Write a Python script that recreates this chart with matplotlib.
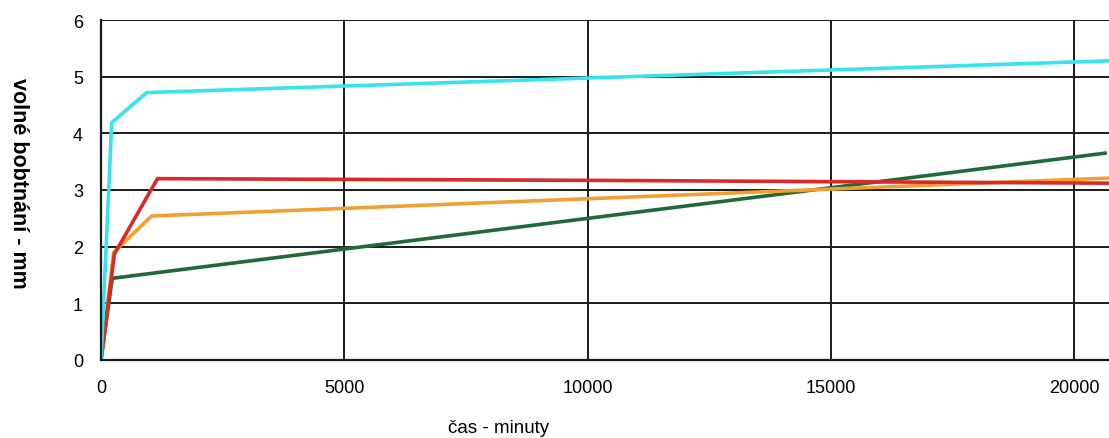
import matplotlib
matplotlib.use('Agg')
import matplotlib.pyplot as plt

plt.rcParams['font.family'] = ['Liberation Sans', 'DejaVu Sans']

# time in minutes, free swelling in mm
cyan_t = [0, 220, 940, 20700]
cyan_v = [0, 4.19, 4.72, 5.28]

red_t = [0, 275, 1160, 10000, 20700]
red_v = [0, 1.87, 3.20, 3.17, 3.12]

orange_t = [0, 260, 1040, 20700]
orange_v = [0, 1.90, 2.54, 3.21]

green_t = [0, 230, 20630]
green_v = [0, 1.44, 3.65]

xticks = [0, 5000, 10000, 15000, 20000]
yticks = [0, 1, 2, 3, 4, 5, 6]

fig = plt.figure(figsize=(11.09, 4.39), dpi=100)
ax = fig.add_axes([0.0911, 0.178, 0.9089, 0.774])

ax.grid(True, color='#1a1a1a', linewidth=1.4)
ax.set_axisbelow(True)

ax.plot(green_t, green_v, color='#1f6a35', lw=2.6)
ax.plot(orange_t, orange_v, color='#f0a030', lw=2.6)
ax.plot(red_t, red_v, color='#dc2828', lw=2.6)
ax.plot(cyan_t, cyan_v, color='#35e4ef', lw=2.6)

ax.set_xlim(0, 20710)
ax.set_ylim(0, 6)
ax.set_xticks(xticks)
ax.set_yticks(yticks)
ax.tick_params(axis='both', length=0, labelsize=13, colors='black')
ax.tick_params(axis='y', pad=13)
ax.tick_params(axis='x', pad=14)

for side in ['top', 'right']:
    ax.spines[side].set_visible(False)
for side in ['left', 'bottom']:
    ax.spines[side].set_linewidth(1.6)
    ax.spines[side].set_color('#1a1a1a')

fig.text(0.45, 0.023, 'čas - minuty', fontsize=13.5, ha='center', va='center')
fig.text(0.017, 0.582, 'volné bobtnání - mm', fontsize=15.5, fontweight='bold',
         rotation=-90, ha='center', va='center')

fig.savefig('out.png', dpi=100)
